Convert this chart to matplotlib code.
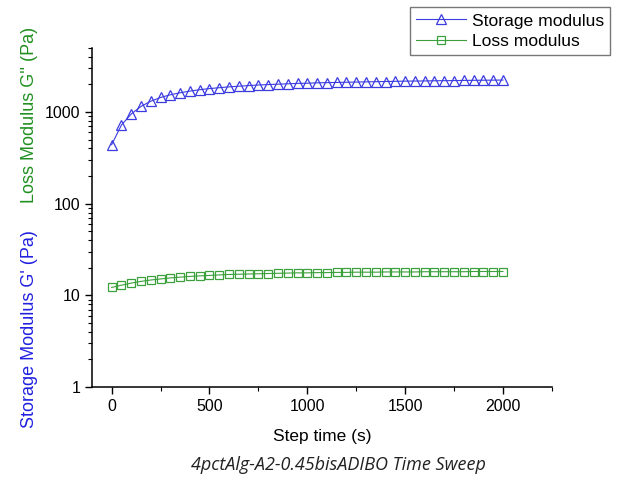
import numpy as np
import matplotlib.pyplot as plt
from matplotlib.ticker import FixedLocator, LogLocator, NullFormatter

plt.rcParams['font.family'] = ['Liberation Sans', 'DejaVu Sans']

# --- data ---
step_time = list(range(0, 2001, 50))
storage = [440, 720, 950, 1150, 1310, 1440, 1540, 1620, 1690, 1750,
           1800, 1840, 1880, 1910, 1940, 1970, 1990, 2010, 2030, 2050,
           2060, 2080, 2090, 2100, 2110, 2120, 2130, 2140, 2150, 2160,
           2170, 2175, 2180, 2190, 2195, 2200, 2210, 2215, 2220, 2225, 2230]
loss = [12.2, 12.9, 13.6, 14.2, 14.7, 15.1, 15.5, 15.8, 16.1, 16.3,
        16.5, 16.7, 16.9, 17.0, 17.1, 17.2, 17.3, 17.4, 17.5, 17.6,
        17.6, 17.7, 17.7, 17.8, 17.8, 17.9, 17.9, 17.9, 18.0, 18.0,
        18.0, 18.0, 18.1, 18.1, 18.1, 18.1, 18.1, 18.2, 18.2, 18.2, 18.2]
x_ticks = [0, 500, 1000, 1500, 2000]
y_ticks = [1, 10, 100, 1000]
y_labels = ['1', '10', '100', '1000']

blue = '#3b3be0'
green = '#3ca03c'

fig = plt.figure(figsize=(6.18, 4.79), dpi=100)
ax = fig.add_axes([0.149, 0.192, 0.744, 0.708])

ax.plot(step_time, storage, color=blue, lw=0.8, marker='^', ms=6.5,
        mfc='none', mec=blue, mew=0.9, label='Storage modulus')
ax.plot(step_time, loss, color=green, lw=0.8, marker='s', ms=5.5,
        mfc='none', mec=green, mew=0.9, label='Loss modulus')

ax.set_yscale('log')
ax.set_xlim(-100, 2250)
ax.set_ylim(1, 5000)

ax.set_xticks(x_ticks)
ax.xaxis.set_minor_locator(FixedLocator([250, 750, 1250, 1750, 2250]))
ax.yaxis.set_major_locator(FixedLocator(y_ticks))
ax.set_yticklabels(y_labels)
ax.yaxis.set_minor_locator(LogLocator(base=10, subs=np.arange(2, 10)))
ax.yaxis.set_minor_formatter(NullFormatter())

ax.tick_params(which='major', direction='out', length=5, width=1, labelsize=11.5)
ax.tick_params(which='minor', direction='out', length=3, width=0.8)

for s in ['top', 'right']:
    ax.spines[s].set_visible(False)
for s in ['left', 'bottom']:
    ax.spines[s].set_linewidth(1.1)

ax.set_xlabel('Step time (s)', fontsize=12.5, labelpad=11)

fig.text(0.048, 0.107, "Storage Modulus G' (Pa)", color='#2020e0',
         rotation=90, fontsize=13, ha='center', va='bottom')
fig.text(0.048, 0.943, "Loss Modulus G'' (Pa)", color='#209020',
         rotation=90, fontsize=13, ha='center', va='top')

leg = fig.legend(loc='upper right', bbox_to_anchor=(0.987, 0.985),
                 fontsize=12.6, frameon=True, fancybox=False,
                 handlelength=2.9, borderpad=0.35, labelspacing=0.3,
                 handletextpad=0.3, borderaxespad=0)
leg.get_frame().set_edgecolor('#555555')
leg.get_frame().set_linewidth(1.0)

fig.text(0.547, 0.01, '4pctAlg-A2-0.45bisADIBO Time Sweep', fontsize=13,
         style='italic', family=['Open Sans', 'DejaVu Sans'],
         ha='center', va='bottom', color='#222222')

fig.savefig('out.png', dpi=100)
